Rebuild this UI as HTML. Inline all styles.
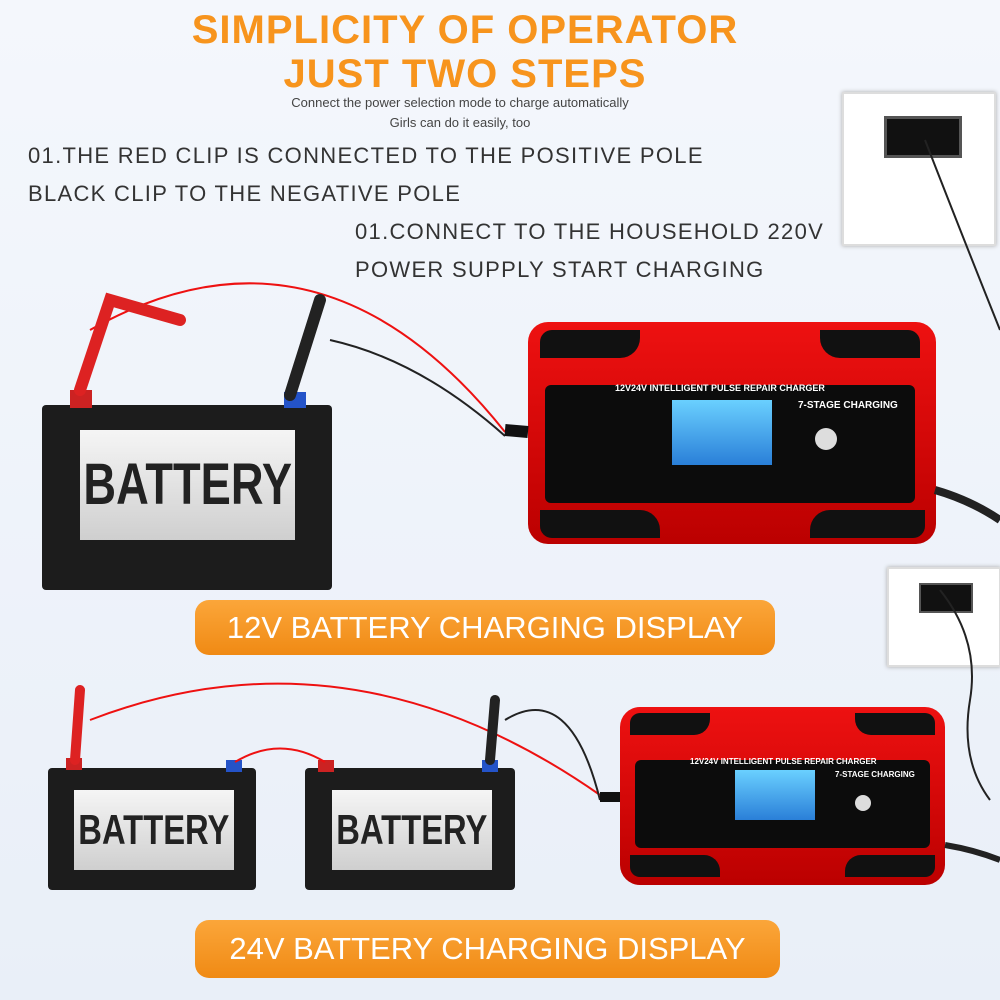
<!DOCTYPE html>
<html><head><meta charset="utf-8"><style>
body{margin:0;width:1000px;height:1000px;overflow:hidden;background:linear-gradient(#f4f7fc,#e9eff8);font-family:"Liberation Sans",sans-serif;position:relative}
.a{position:absolute}
.t{color:#f7941d;font-weight:bold;font-size:40px;text-align:center;width:1000px;left:-35px;letter-spacing:1px}
.s{color:#444;font-size:13px;text-align:center;width:1000px;left:-40px}
.st{color:#333;font-size:22px;letter-spacing:1.3px}
.ban{background:linear-gradient(#fba63a,#f08a14);border-radius:14px;color:#fff;font-size:31px;text-align:center}
.bat{background:#1c1c1c;border-radius:4px}
.lab{background:linear-gradient(#f5f5f5,#cfcfcf);color:#222;font-weight:bold;display:flex;justify-content:center;overflow:hidden}
.lab span{display:block;flex:none;transform:scaleX(0.78)}
.out{background:#fff;border:2px solid #ddd;box-shadow:0 0 4px #aaa}
.chg{background:linear-gradient(#e11,#b00);border-radius:20px}
.pan{background:#0c0c0c;border-radius:6px}
.lcd{background:linear-gradient(#6ad0ff,#2a7fd8)}
</style></head><body>
<div class="a t" style="top:8px">SIMPLICITY OF OPERATOR</div>
<div class="a t" style="top:52px">JUST TWO STEPS</div>
<div class="a s" style="top:95px">Connect the power selection mode to charge automatically</div>
<div class="a s" style="top:115px">Girls can do it easily, too</div>
<div class="a st" style="left:28px;top:143px">01.THE RED CLIP IS CONNECTED TO THE POSITIVE POLE</div>
<div class="a st" style="left:28px;top:181px">BLACK CLIP TO THE NEGATIVE POLE</div>
<div class="a st" style="left:355px;top:219px">01.CONNECT TO THE HOUSEHOLD 220V</div>
<div class="a st" style="left:355px;top:257px">POWER SUPPLY START CHARGING</div>

<div class="a out" style="left:842px;top:92px;width:150px;height:150px"><div class="a" style="left:40px;top:22px;width:72px;height:36px;background:#111;border:3px solid #555"></div></div>
<div class="a out" style="left:887px;top:567px;width:110px;height:96px"><div class="a" style="left:30px;top:14px;width:50px;height:26px;background:#111;border:2px solid #555"></div></div>

<div class="a bat" style="left:42px;top:405px;width:290px;height:185px"></div>
<div class="a lab" style="left:80px;top:430px;width:215px;height:110px;line-height:110px;font-size:58px"><span>BATTERY</span></div>
<div class="a" style="left:70px;top:390px;width:22px;height:18px;background:#c22"></div>
<div class="a" style="left:284px;top:392px;width:22px;height:16px;background:#2453c8"></div>

<div class="a bat" style="left:48px;top:768px;width:208px;height:122px"></div>
<div class="a lab" style="left:74px;top:790px;width:160px;height:80px;line-height:80px;font-size:42px"><span>BATTERY</span></div>
<div class="a bat" style="left:305px;top:768px;width:210px;height:122px"></div>
<div class="a lab" style="left:332px;top:790px;width:160px;height:80px;line-height:80px;font-size:42px"><span>BATTERY</span></div>
<div class="a" style="left:66px;top:758px;width:16px;height:12px;background:#c22"></div>
<div class="a" style="left:226px;top:760px;width:16px;height:12px;background:#2453c8"></div>
<div class="a" style="left:318px;top:760px;width:16px;height:12px;background:#c22"></div>
<div class="a" style="left:482px;top:760px;width:16px;height:12px;background:#2453c8"></div>

<div class="a chg" style="left:528px;top:322px;width:408px;height:222px"></div>
<div class="a pan" style="left:545px;top:385px;width:370px;height:118px"></div>
<div class="a lcd" style="left:672px;top:400px;width:100px;height:65px"></div>
<div class="a" style="left:615px;top:383px;color:#fff;font-size:9px;font-weight:bold">12V24V INTELLIGENT PULSE REPAIR CHARGER</div>
<div class="a" style="left:798px;top:400px;color:#fff;font-size:10px;font-weight:bold">7-STAGE CHARGING</div>
<div class="a" style="left:815px;top:428px;width:22px;height:22px;border-radius:50%;background:#ddd"></div>
<div class="a" style="left:540px;top:330px;width:100px;height:28px;background:#111;border-radius:12px 0 20px 0"></div>
<div class="a" style="left:820px;top:330px;width:100px;height:28px;background:#111;border-radius:0 12px 0 20px"></div>
<div class="a" style="left:540px;top:510px;width:120px;height:28px;background:#111;border-radius:0 20px 0 12px"></div>
<div class="a" style="left:810px;top:510px;width:115px;height:28px;background:#111;border-radius:20px 0 12px 0"></div>

<div class="a chg" style="left:620px;top:707px;width:325px;height:178px"></div>
<div class="a pan" style="left:635px;top:760px;width:295px;height:88px"></div>
<div class="a lcd" style="left:735px;top:770px;width:80px;height:50px"></div>
<div class="a" style="left:690px;top:757px;color:#fff;font-size:8px;font-weight:bold">12V24V INTELLIGENT PULSE REPAIR CHARGER</div>
<div class="a" style="left:835px;top:770px;color:#fff;font-size:8px;font-weight:bold">7-STAGE CHARGING</div>
<div class="a" style="left:855px;top:795px;width:16px;height:16px;border-radius:50%;background:#ddd"></div>
<div class="a" style="left:630px;top:713px;width:80px;height:22px;background:#111;border-radius:10px 0 16px 0"></div>
<div class="a" style="left:855px;top:713px;width:80px;height:22px;background:#111;border-radius:0 10px 0 16px"></div>
<div class="a" style="left:630px;top:855px;width:90px;height:22px;background:#111;border-radius:0 16px 0 10px"></div>
<div class="a" style="left:845px;top:855px;width:90px;height:22px;background:#111;border-radius:16px 0 10px 0"></div>

<svg class="a" style="left:0;top:0" width="1000" height="1000" fill="none">
<path d="M90 330 Q320 200 505 432" stroke="#e11" stroke-width="2"/>
<path d="M330 340 Q420 360 505 436" stroke="#222" stroke-width="2"/>
<path d="M80 390 L110 300 L180 320" stroke="#d22" stroke-width="12" stroke-linecap="round"/>
<path d="M290 395 L320 300" stroke="#222" stroke-width="12" stroke-linecap="round"/>
<path d="M505 430 L528 432" stroke="#111" stroke-width="12"/>
<path d="M935 490 Q970 500 1000 520" stroke="#222" stroke-width="8"/>
<path d="M925 140 Q960 230 1000 330" stroke="#222" stroke-width="2"/>
<path d="M940 590 Q980 640 970 700 Q960 760 990 800" stroke="#222" stroke-width="2"/>
<path d="M945 845 Q975 850 1000 860" stroke="#222" stroke-width="6"/>
<path d="M75 760 L80 690" stroke="#d22" stroke-width="10" stroke-linecap="round"/>
<path d="M90 720 Q350 620 600 795" stroke="#e11" stroke-width="2"/>
<path d="M235 762 Q280 735 325 762" stroke="#e11" stroke-width="2"/>
<path d="M490 760 L495 700" stroke="#222" stroke-width="10" stroke-linecap="round"/>
<path d="M505 720 Q570 680 600 800" stroke="#222" stroke-width="2"/>
<path d="M600 797 L620 797" stroke="#111" stroke-width="10"/>
</svg>

<div class="a ban" style="left:195px;top:600px;width:580px;height:55px;line-height:55px">12V BATTERY CHARGING DISPLAY</div>
<div class="a ban" style="left:195px;top:920px;width:585px;height:58px;line-height:58px">24V BATTERY CHARGING DISPLAY</div>
</body></html>
